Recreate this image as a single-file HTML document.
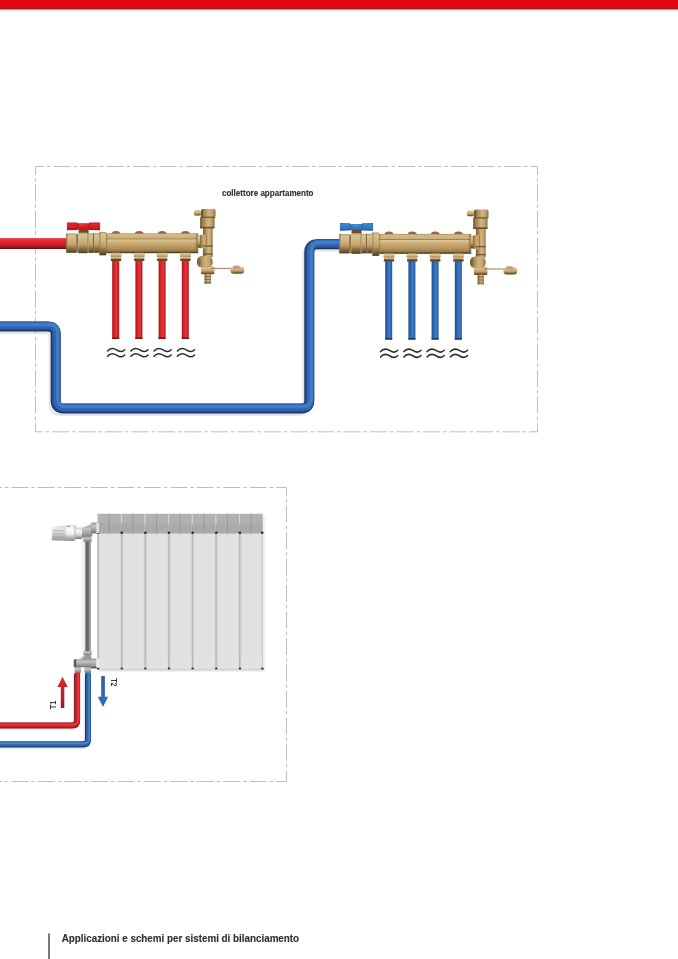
<!DOCTYPE html>
<html>
<head>
<meta charset="utf-8">
<style>
html,body{margin:0;padding:0;background:#fff;}
body{width:678px;height:959px;overflow:hidden;position:relative;font-family:"Liberation Sans",sans-serif;}
svg{position:absolute;left:0;top:0;filter:blur(0.4px);}
</style>
</head>
<body>
<svg width="678" height="959" viewBox="0 0 678 959">
<defs>
  <linearGradient id="topbar" x1="0" y1="0" x2="0" y2="11" gradientUnits="userSpaceOnUse">
    <stop offset="0" stop-color="#E30714" />
    <stop offset="0.66" stop-color="#E10815" />
    <stop offset="0.75" stop-color="#A8141E" />
    <stop offset="0.86" stop-color="#E9A2A6" />
    <stop offset="1" stop-color="#FFFFFF" />
  </linearGradient>

  <linearGradient id="redH" x1="0" y1="0" x2="0" y2="1">
    <stop offset="0" stop-color="#E0525A" />
    <stop offset="0.18" stop-color="#EA2A30" />
    <stop offset="0.5" stop-color="#DC2129" />
    <stop offset="0.78" stop-color="#A91B22" />
    <stop offset="1" stop-color="#5A1216" />
  </linearGradient>
  <linearGradient id="brassH" x1="0" y1="0" x2="0" y2="1">
    <stop offset="0" stop-color="#A08658" />
    <stop offset="0.06" stop-color="#D2BC8A" />
    <stop offset="0.24" stop-color="#CBB07C" />
    <stop offset="0.28" stop-color="#9F8250" />
    <stop offset="0.33" stop-color="#DAC392" />
    <stop offset="0.5" stop-color="#C9AB72" />
    <stop offset="0.75" stop-color="#B3935D" />
    <stop offset="0.9" stop-color="#977846" />
    <stop offset="0.95" stop-color="#5E4826" />
    <stop offset="1" stop-color="#3A2C18" />
  </linearGradient>
  <linearGradient id="brassN" x1="0" y1="0" x2="0" y2="1">
    <stop offset="0" stop-color="#B09668" />
    <stop offset="0.1" stop-color="#D8C294" />
    <stop offset="0.45" stop-color="#CCAE76" />
    <stop offset="0.62" stop-color="#B89A64" />
    <stop offset="0.76" stop-color="#8F7246" />
    <stop offset="0.9" stop-color="#6E5430" />
    <stop offset="1" stop-color="#4A381F" />
  </linearGradient>
  <linearGradient id="brassV" x1="0" y1="0" x2="1" y2="0">
    <stop offset="0" stop-color="#74592E" />
    <stop offset="0.2" stop-color="#A1824C" />
    <stop offset="0.55" stop-color="#D0B67E" />
    <stop offset="0.8" stop-color="#C2A26A" />
    <stop offset="1" stop-color="#87693D" />
  </linearGradient>
  <linearGradient id="redHandle" x1="0" y1="0" x2="0" y2="1">
    <stop offset="0" stop-color="#B8161C" />
    <stop offset="0.2" stop-color="#E0242A" />
    <stop offset="0.7" stop-color="#D41E24" />
    <stop offset="1" stop-color="#9A1217" />
  </linearGradient>
  <linearGradient id="blueHandle" x1="0" y1="0" x2="0" y2="1">
    <stop offset="0" stop-color="#1F62A8" />
    <stop offset="0.2" stop-color="#3A86D0" />
    <stop offset="0.7" stop-color="#2F76C2" />
    <stop offset="1" stop-color="#1C5596" />
  </linearGradient>
  <linearGradient id="redV" x1="0" y1="0" x2="1" y2="0">
    <stop offset="0" stop-color="#A3151B" />
    <stop offset="0.3" stop-color="#D8222A" />
    <stop offset="0.6" stop-color="#E8343A" />
    <stop offset="1" stop-color="#B4181F" />
  </linearGradient>
  <linearGradient id="blueV" x1="0" y1="0" x2="1" y2="0">
    <stop offset="0" stop-color="#1B4C8C" />
    <stop offset="0.3" stop-color="#2C66B2" />
    <stop offset="0.65" stop-color="#3D7CC8" />
    <stop offset="1" stop-color="#21548F" />
  </linearGradient>
  <linearGradient id="fitG" x1="0" y1="0" x2="0" y2="1">
    <stop offset="0" stop-color="#B09466" />
    <stop offset="0.3" stop-color="#DCC69C" />
    <stop offset="0.55" stop-color="#C6A874" />
    <stop offset="0.8" stop-color="#8D7046" />
    <stop offset="1" stop-color="#5A4426" />
  </linearGradient>
  <linearGradient id="greyV" x1="0" y1="0" x2="1" y2="0">
    <stop offset="0" stop-color="#8A8A8A" />
    <stop offset="0.25" stop-color="#626262" />
    <stop offset="0.55" stop-color="#707070" />
    <stop offset="0.85" stop-color="#A4A4A4" />
    <stop offset="1" stop-color="#B8B8B8" />
  </linearGradient>
  <linearGradient id="thermo" x1="0" y1="0" x2="0" y2="1">
    <stop offset="0" stop-color="#C8C8C8" />
    <stop offset="0.25" stop-color="#F4F4F4" />
    <stop offset="0.5" stop-color="#E8E8E8" />
    <stop offset="0.8" stop-color="#B4B4B4" />
    <stop offset="1" stop-color="#8A8A8A" />
  </linearGradient>
  <linearGradient id="greyN" x1="0" y1="0" x2="0" y2="1">
    <stop offset="0" stop-color="#9A9A9A" />
    <stop offset="0.3" stop-color="#C4C4C4" />
    <stop offset="0.7" stop-color="#9E9E9E" />
    <stop offset="1" stop-color="#707070" />
  </linearGradient>
  <linearGradient id="secBody" x1="0" y1="0" x2="1" y2="0">
    <stop offset="0" stop-color="#A8A8A8" />
    <stop offset="0.08" stop-color="#D4D4D4" />
    <stop offset="0.14" stop-color="#E2E2E2" />
    <stop offset="0.5" stop-color="#E0E0E0" />
    <stop offset="0.9" stop-color="#E2E2E2" />
    <stop offset="1" stop-color="#DADADA" />
  </linearGradient>
  <linearGradient id="arrR" x1="0" y1="676" x2="0" y2="708" gradientUnits="userSpaceOnUse">
    <stop offset="0" stop-color="#E4282E" />
    <stop offset="0.35" stop-color="#C8222A" />
    <stop offset="1" stop-color="#9A1C22" />
  </linearGradient>
  <linearGradient id="arrB" x1="0" y1="676" x2="0" y2="708" gradientUnits="userSpaceOnUse">
    <stop offset="0" stop-color="#365F98" />
    <stop offset="0.6" stop-color="#2D69B2" />
    <stop offset="1" stop-color="#2C6FC0" />
  </linearGradient>

  <linearGradient id="pshadow" x1="0" y1="0" x2="1" y2="0">
    <stop offset="0" stop-color="#FFFFFF" stop-opacity="0" />
    <stop offset="1" stop-color="#DADADA" stop-opacity="0.8" />
  </linearGradient>
</defs>


<rect x="0" y="0" width="678" height="8" fill="#E30714" />
<rect x="0" y="8" width="678" height="1" fill="#A8131D" />
<rect x="0" y="9" width="678" height="1" fill="#DC8D92" />
<rect x="0" y="10" width="678" height="1" fill="#F8E4E5" />


<g fill="none" stroke="#BEBEBE" stroke-width="1" stroke-dasharray="17 3 3.5 3" stroke-dashoffset="8.5">
  <path d="M35.5 166.5 H537.5" />
  <path d="M35.5 166.5 V432" />
  <path d="M537.5 166.5 V432" />
  <path d="M537.5 431.8 H35.5" />
  <path d="M286.5 487.5 H-10" stroke-dashoffset="6.8" />
  <path d="M286.5 487.5 V781.5" />
  <path d="M286.5 781.5 H-10" stroke-dashoffset="6.8" />
</g>



<g fill="none" stroke-linejoin="round">
  <g transform="translate(-3,3.5)" stroke="#C8C8D0" stroke-opacity="0.45" stroke-width="8"><path d="M-5 326.5 H47.7 Q55.7 326.5 55.7 334.5 V400.5 Q55.7 408.5 63.7 408.5 H301.3 Q309.3 408.5 309.3 400.5 V252.2 Q309.3 244.2 317.3 244.2 H342" fill="none" />

  </g><g stroke="#1B3260" stroke-width="10"><path d="M-5 326.5 H47.7 Q55.7 326.5 55.7 334.5 V400.5 Q55.7 408.5 63.7 408.5 H301.3 Q309.3 408.5 309.3 400.5 V252.2 Q309.3 244.2 317.3 244.2 H342" fill="none" />

  </g><g transform="translate(0.5,-0.5)" stroke="#244F90" stroke-width="8.6"><path d="M-5 326.5 H47.7 Q55.7 326.5 55.7 334.5 V400.5 Q55.7 408.5 63.7 408.5 H301.3 Q309.3 408.5 309.3 400.5 V252.2 Q309.3 244.2 317.3 244.2 H342" fill="none" />

  </g><g transform="translate(1,-1)" stroke="#2E66B2" stroke-width="6.5"><path d="M-5 326.5 H47.7 Q55.7 326.5 55.7 334.5 V400.5 Q55.7 408.5 63.7 408.5 H301.3 Q309.3 408.5 309.3 400.5 V252.2 Q309.3 244.2 317.3 244.2 H342" fill="none" />

  </g><g transform="translate(2,-2)" stroke="#3E7CC6" stroke-width="3.5"><path d="M-5 326.5 H47.7 Q55.7 326.5 55.7 334.5 V400.5 Q55.7 408.5 63.7 408.5 H301.3 Q309.3 408.5 309.3 400.5 V252.2 Q309.3 244.2 317.3 244.2 H342" fill="none" />

  </g></g>

<rect x="-2" y="238" width="70" height="11" fill="url(#redH)" />



<g id="m1">
  <rect x="112.2" y="260" width="7" height="79" fill="url(#redV)" />
  <rect x="135.4" y="260" width="7" height="79" fill="url(#redV)" />
  <rect x="158.6" y="260" width="7" height="79" fill="url(#redV)" />
  <rect x="181.8" y="260" width="7" height="79" fill="url(#redV)" />
  <g fill="#7E1519"><rect x="112.2" y="337.4" width="7" height="1.6" /><rect x="135.4" y="337.4" width="7" height="1.6" /><rect x="158.6" y="337.4" width="7" height="1.6" /><rect x="181.8" y="337.4" width="7" height="1.6" /></g>
  <rect x="78.6" y="229" width="10" height="4.2" fill="#6B4A2E" />
  <g fill="url(#redHandle)"><path d="M66.9 222.4 L76.9 222.6 L77.2 223.3 L89 223.3 L89.3 222.6 L100 222.4 L100 230.2 L89.3 230 L89 229.5 L77.2 229.5 L76.9 230 L66.9 230.2 Z" />

  </g><rect x="76.6" y="223.2" width="0.9" height="6.4" fill="#8A1015" opacity="0.6" />
  <rect x="88.8" y="223.2" width="0.9" height="6.4" fill="#8A1015" opacity="0.6" />
  <rect x="80" y="224" width="5" height="1.6" rx="0.8" fill="#F04A50" opacity="0.55" />
  <g><g>
    
    <g transform="translate(116,0)"><g>
    <path d="M-4.6 234 Q-4.2 231 0 231 Q4.2 231 4.6 234 Z" fill="#9A6544" />
  </g>
  </g><g transform="translate(139.2,0)"><g>
    <path d="M-4.6 234 Q-4.2 231 0 231 Q4.2 231 4.6 234 Z" fill="#9A6544" />
  </g>
  </g><g transform="translate(162.2,0)"><g>
    <path d="M-4.6 234 Q-4.2 231 0 231 Q4.2 231 4.6 234 Z" fill="#9A6544" />
  </g>
  </g><g transform="translate(185.4,0)"><g>
    <path d="M-4.6 234 Q-4.2 231 0 231 Q4.2 231 4.6 234 Z" fill="#9A6544" />
  </g>
  </g><rect x="66.2" y="233.4" width="10.4" height="19.4" fill="url(#brassN)" />
    <rect x="66.2" y="233.4" width="1.2" height="19.4" fill="#8A6E45" opacity="0.8" />
    
    <rect x="76.2" y="234" width="2.2" height="18.4" fill="#8E7148" />
    
    <rect x="78.3" y="232.6" width="9.4" height="20.6" fill="url(#brassN)" />
    <rect x="87.6" y="233.2" width="1" height="19.6" fill="#6E5532" />
    <rect x="88.6" y="233.2" width="4.6" height="19.6" fill="url(#brassN)" />
    <rect x="93.1" y="233.2" width="1" height="19.6" fill="#6E5532" />
    <rect x="94.1" y="233.2" width="5.4" height="19.6" fill="url(#brassN)" />
    
    <rect x="99.4" y="231.9" width="6.8" height="23.4" fill="url(#brassN)" />
    <rect x="99.4" y="231.9" width="0.9" height="23.4" fill="#7D6240" opacity="0.8" />
    
    <rect x="106" y="233.3" width="92.2" height="19.9" fill="url(#brassH)" />
    <rect x="195.8" y="233.5" width="2.4" height="19.5" rx="1" fill="#7D6038" opacity="0.55" />
    <rect x="106" y="233.5" width="1.2" height="19.5" fill="#8A6C40" opacity="0.6" />
    
    <g transform="translate(116,0)"><g>
    <rect x="-5" y="256" width="10" height="4" fill="url(#fitG)" />
    <rect x="-5.6" y="252.8" width="11.2" height="4" rx="1.8" fill="#D4BC8E" />
    <rect x="-5.6" y="255.6" width="11.2" height="1.2" fill="#A88A58" opacity="0.8" />
    <rect x="-5.2" y="259" width="10.4" height="1.9" rx="0.6" fill="#5F4829" />
  </g>
  </g><g transform="translate(139.2,0)"><g>
    <rect x="-5" y="256" width="10" height="4" fill="url(#fitG)" />
    <rect x="-5.6" y="252.8" width="11.2" height="4" rx="1.8" fill="#D4BC8E" />
    <rect x="-5.6" y="255.6" width="11.2" height="1.2" fill="#A88A58" opacity="0.8" />
    <rect x="-5.2" y="259" width="10.4" height="1.9" rx="0.6" fill="#5F4829" />
  </g>
  </g><g transform="translate(162.2,0)"><g>
    <rect x="-5" y="256" width="10" height="4" fill="url(#fitG)" />
    <rect x="-5.6" y="252.8" width="11.2" height="4" rx="1.8" fill="#D4BC8E" />
    <rect x="-5.6" y="255.6" width="11.2" height="1.2" fill="#A88A58" opacity="0.8" />
    <rect x="-5.2" y="259" width="10.4" height="1.9" rx="0.6" fill="#5F4829" />
  </g>
  </g><g transform="translate(185.4,0)"><g>
    <rect x="-5" y="256" width="10" height="4" fill="url(#fitG)" />
    <rect x="-5.6" y="252.8" width="11.2" height="4" rx="1.8" fill="#D4BC8E" />
    <rect x="-5.6" y="255.6" width="11.2" height="1.2" fill="#A88A58" opacity="0.8" />
    <rect x="-5.2" y="259" width="10.4" height="1.9" rx="0.6" fill="#5F4829" />
  </g>
  </g><rect x="197.6" y="235.2" width="8" height="12.6" rx="1" fill="url(#brassN)" />
    <rect x="203" y="227" width="9.6" height="30" fill="url(#brassV)" />
    <rect x="200" y="234.5" width="7" height="14" rx="2" fill="url(#brassV)" opacity="0.9" />
    <rect x="202.6" y="245.5" width="10.4" height="1.2" fill="#6F5634" />
    <rect x="202.6" y="253.5" width="10.4" height="1.2" fill="#6F5634" />
    
    <rect x="200.1" y="217.5" width="14.4" height="10.8" rx="1" fill="url(#brassV)" />
    <rect x="200.1" y="226.8" width="14.4" height="1.6" fill="#6A5030" />
    <rect x="200.9" y="209" width="14.6" height="8.6" rx="2" fill="url(#brassV)" />
    <rect x="200.3" y="216.6" width="15" height="1.4" fill="#7A5E38" />
    <rect x="194" y="210.2" width="7" height="5.4" rx="1.6" fill="url(#brassN)" />
    <rect x="201.6" y="209.5" width="1.4" height="8" fill="#6E5433" />
    
    <rect x="197" y="256" width="15.6" height="11.6" rx="5" fill="url(#brassV)" />
    <rect x="197.5" y="258" width="3" height="7.5" rx="1.5" fill="#7A5E36" opacity="0.5" />
    <rect x="201" y="266.5" width="13.4" height="7.8" rx="1" fill="url(#brassN)" />
    <rect x="204.6" y="274" width="6.2" height="10.1" fill="url(#brassV)" />
    <rect x="204.6" y="276" width="6.2" height="0.8" fill="#7B5F3A" />
    <rect x="204.6" y="279" width="6.2" height="0.8" fill="#7B5F3A" />
    <rect x="204.6" y="282" width="6.2" height="0.8" fill="#7B5F3A" />
    
    <path d="M211 268.4 L232.5 268.4" stroke="#A87560" stroke-width="1" />
    <rect x="230.4" y="266.8" width="13.9" height="7" rx="3.5" fill="url(#brassN)" />
    <rect x="233" y="265.6" width="7" height="3.4" rx="1.7" fill="#BFA278" />
  </g>
  </g><g transform="translate(116,0)"><g fill="none" stroke="#2A2A2A" stroke-width="1.55" stroke-linecap="round">
    <path d="M-8.4 351 C-5.8 347.9 -2.5 347.9 1 350.1 C3.8 351.9 6.5 352.1 8.7 349.7" />
    <path d="M-8.4 356.3 C-5.8 353.2 -2.5 353.2 1 355.4 C3.8 357.2 6.5 357.4 8.7 355" />
  </g>
  </g><g transform="translate(139.3,0)"><g fill="none" stroke="#2A2A2A" stroke-width="1.55" stroke-linecap="round">
    <path d="M-8.4 351 C-5.8 347.9 -2.5 347.9 1 350.1 C3.8 351.9 6.5 352.1 8.7 349.7" />
    <path d="M-8.4 356.3 C-5.8 353.2 -2.5 353.2 1 355.4 C3.8 357.2 6.5 357.4 8.7 355" />
  </g>
  </g><g transform="translate(162.5,0)"><g fill="none" stroke="#2A2A2A" stroke-width="1.55" stroke-linecap="round">
    <path d="M-8.4 351 C-5.8 347.9 -2.5 347.9 1 350.1 C3.8 351.9 6.5 352.1 8.7 349.7" />
    <path d="M-8.4 356.3 C-5.8 353.2 -2.5 353.2 1 355.4 C3.8 357.2 6.5 357.4 8.7 355" />
  </g>
  </g><g transform="translate(185.8,0)"><g fill="none" stroke="#2A2A2A" stroke-width="1.55" stroke-linecap="round">
    <path d="M-8.4 351 C-5.8 347.9 -2.5 347.9 1 350.1 C3.8 351.9 6.5 352.1 8.7 349.7" />
    <path d="M-8.4 356.3 C-5.8 353.2 -2.5 353.2 1 355.4 C3.8 357.2 6.5 357.4 8.7 355" />
  </g>
  </g></g>

<g transform="translate(273,0.6)">
  <rect x="112.2" y="260" width="7" height="79" fill="url(#blueV)" />
  <rect x="135.4" y="260" width="7" height="79" fill="url(#blueV)" />
  <rect x="158.6" y="260" width="7" height="79" fill="url(#blueV)" />
  <rect x="181.8" y="260" width="7" height="79" fill="url(#blueV)" />
  <g fill="#173F73"><rect x="112.2" y="337.4" width="7" height="1.6" /><rect x="135.4" y="337.4" width="7" height="1.6" /><rect x="158.6" y="337.4" width="7" height="1.6" /><rect x="181.8" y="337.4" width="7" height="1.6" /></g>
  <rect x="78.6" y="229" width="10" height="4.2" fill="#6B4A2E" />
  <g fill="url(#blueHandle)"><path d="M66.9 222.4 L76.9 222.6 L77.2 223.3 L89 223.3 L89.3 222.6 L100 222.4 L100 230.2 L89.3 230 L89 229.5 L77.2 229.5 L76.9 230 L66.9 230.2 Z" />

  </g><rect x="76.6" y="223.2" width="0.9" height="6.4" fill="#174A85" opacity="0.6" />
  <rect x="88.8" y="223.2" width="0.9" height="6.4" fill="#174A85" opacity="0.6" />
  <rect x="80" y="224" width="5" height="1.6" rx="0.8" fill="#5A9BE0" opacity="0.55" />
  <g><g>
    
    <g transform="translate(116,0)"><g>
    <path d="M-4.6 234 Q-4.2 231 0 231 Q4.2 231 4.6 234 Z" fill="#9A6544" />
  </g>
  </g><g transform="translate(139.2,0)"><g>
    <path d="M-4.6 234 Q-4.2 231 0 231 Q4.2 231 4.6 234 Z" fill="#9A6544" />
  </g>
  </g><g transform="translate(162.2,0)"><g>
    <path d="M-4.6 234 Q-4.2 231 0 231 Q4.2 231 4.6 234 Z" fill="#9A6544" />
  </g>
  </g><g transform="translate(185.4,0)"><g>
    <path d="M-4.6 234 Q-4.2 231 0 231 Q4.2 231 4.6 234 Z" fill="#9A6544" />
  </g>
  </g><rect x="66.2" y="233.4" width="10.4" height="19.4" fill="url(#brassN)" />
    <rect x="66.2" y="233.4" width="1.2" height="19.4" fill="#8A6E45" opacity="0.8" />
    
    <rect x="76.2" y="234" width="2.2" height="18.4" fill="#8E7148" />
    
    <rect x="78.3" y="232.6" width="9.4" height="20.6" fill="url(#brassN)" />
    <rect x="87.6" y="233.2" width="1" height="19.6" fill="#6E5532" />
    <rect x="88.6" y="233.2" width="4.6" height="19.6" fill="url(#brassN)" />
    <rect x="93.1" y="233.2" width="1" height="19.6" fill="#6E5532" />
    <rect x="94.1" y="233.2" width="5.4" height="19.6" fill="url(#brassN)" />
    
    <rect x="99.4" y="231.9" width="6.8" height="23.4" fill="url(#brassN)" />
    <rect x="99.4" y="231.9" width="0.9" height="23.4" fill="#7D6240" opacity="0.8" />
    
    <rect x="106" y="233.3" width="92.2" height="19.9" fill="url(#brassH)" />
    <rect x="195.8" y="233.5" width="2.4" height="19.5" rx="1" fill="#7D6038" opacity="0.55" />
    <rect x="106" y="233.5" width="1.2" height="19.5" fill="#8A6C40" opacity="0.6" />
    
    <g transform="translate(116,0)"><g>
    <rect x="-5" y="256" width="10" height="4" fill="url(#fitG)" />
    <rect x="-5.6" y="252.8" width="11.2" height="4" rx="1.8" fill="#D4BC8E" />
    <rect x="-5.6" y="255.6" width="11.2" height="1.2" fill="#A88A58" opacity="0.8" />
    <rect x="-5.2" y="259" width="10.4" height="1.9" rx="0.6" fill="#5F4829" />
  </g>
  </g><g transform="translate(139.2,0)"><g>
    <rect x="-5" y="256" width="10" height="4" fill="url(#fitG)" />
    <rect x="-5.6" y="252.8" width="11.2" height="4" rx="1.8" fill="#D4BC8E" />
    <rect x="-5.6" y="255.6" width="11.2" height="1.2" fill="#A88A58" opacity="0.8" />
    <rect x="-5.2" y="259" width="10.4" height="1.9" rx="0.6" fill="#5F4829" />
  </g>
  </g><g transform="translate(162.2,0)"><g>
    <rect x="-5" y="256" width="10" height="4" fill="url(#fitG)" />
    <rect x="-5.6" y="252.8" width="11.2" height="4" rx="1.8" fill="#D4BC8E" />
    <rect x="-5.6" y="255.6" width="11.2" height="1.2" fill="#A88A58" opacity="0.8" />
    <rect x="-5.2" y="259" width="10.4" height="1.9" rx="0.6" fill="#5F4829" />
  </g>
  </g><g transform="translate(185.4,0)"><g>
    <rect x="-5" y="256" width="10" height="4" fill="url(#fitG)" />
    <rect x="-5.6" y="252.8" width="11.2" height="4" rx="1.8" fill="#D4BC8E" />
    <rect x="-5.6" y="255.6" width="11.2" height="1.2" fill="#A88A58" opacity="0.8" />
    <rect x="-5.2" y="259" width="10.4" height="1.9" rx="0.6" fill="#5F4829" />
  </g>
  </g><rect x="197.6" y="235.2" width="8" height="12.6" rx="1" fill="url(#brassN)" />
    <rect x="203" y="227" width="9.6" height="30" fill="url(#brassV)" />
    <rect x="200" y="234.5" width="7" height="14" rx="2" fill="url(#brassV)" opacity="0.9" />
    <rect x="202.6" y="245.5" width="10.4" height="1.2" fill="#6F5634" />
    <rect x="202.6" y="253.5" width="10.4" height="1.2" fill="#6F5634" />
    
    <rect x="200.1" y="217.5" width="14.4" height="10.8" rx="1" fill="url(#brassV)" />
    <rect x="200.1" y="226.8" width="14.4" height="1.6" fill="#6A5030" />
    <rect x="200.9" y="209" width="14.6" height="8.6" rx="2" fill="url(#brassV)" />
    <rect x="200.3" y="216.6" width="15" height="1.4" fill="#7A5E38" />
    <rect x="194" y="210.2" width="7" height="5.4" rx="1.6" fill="url(#brassN)" />
    <rect x="201.6" y="209.5" width="1.4" height="8" fill="#6E5433" />
    
    <rect x="197" y="256" width="15.6" height="11.6" rx="5" fill="url(#brassV)" />
    <rect x="197.5" y="258" width="3" height="7.5" rx="1.5" fill="#7A5E36" opacity="0.5" />
    <rect x="201" y="266.5" width="13.4" height="7.8" rx="1" fill="url(#brassN)" />
    <rect x="204.6" y="274" width="6.2" height="10.1" fill="url(#brassV)" />
    <rect x="204.6" y="276" width="6.2" height="0.8" fill="#7B5F3A" />
    <rect x="204.6" y="279" width="6.2" height="0.8" fill="#7B5F3A" />
    <rect x="204.6" y="282" width="6.2" height="0.8" fill="#7B5F3A" />
    
    <path d="M211 268.4 L232.5 268.4" stroke="#A87560" stroke-width="1" />
    <rect x="230.4" y="266.8" width="13.9" height="7" rx="3.5" fill="url(#brassN)" />
    <rect x="233" y="265.6" width="7" height="3.4" rx="1.7" fill="#BFA278" />
  </g>
  </g><g transform="translate(116,0)"><g fill="none" stroke="#2A2A2A" stroke-width="1.55" stroke-linecap="round">
    <path d="M-8.4 351 C-5.8 347.9 -2.5 347.9 1 350.1 C3.8 351.9 6.5 352.1 8.7 349.7" />
    <path d="M-8.4 356.3 C-5.8 353.2 -2.5 353.2 1 355.4 C3.8 357.2 6.5 357.4 8.7 355" />
  </g>
  </g><g transform="translate(139.3,0)"><g fill="none" stroke="#2A2A2A" stroke-width="1.55" stroke-linecap="round">
    <path d="M-8.4 351 C-5.8 347.9 -2.5 347.9 1 350.1 C3.8 351.9 6.5 352.1 8.7 349.7" />
    <path d="M-8.4 356.3 C-5.8 353.2 -2.5 353.2 1 355.4 C3.8 357.2 6.5 357.4 8.7 355" />
  </g>
  </g><g transform="translate(162.5,0)"><g fill="none" stroke="#2A2A2A" stroke-width="1.55" stroke-linecap="round">
    <path d="M-8.4 351 C-5.8 347.9 -2.5 347.9 1 350.1 C3.8 351.9 6.5 352.1 8.7 349.7" />
    <path d="M-8.4 356.3 C-5.8 353.2 -2.5 353.2 1 355.4 C3.8 357.2 6.5 357.4 8.7 355" />
  </g>
  </g><g transform="translate(185.8,0)"><g fill="none" stroke="#2A2A2A" stroke-width="1.55" stroke-linecap="round">
    <path d="M-8.4 351 C-5.8 347.9 -2.5 347.9 1 350.1 C3.8 351.9 6.5 352.1 8.7 349.7" />
    <path d="M-8.4 356.3 C-5.8 353.2 -2.5 353.2 1 355.4 C3.8 357.2 6.5 357.4 8.7 355" />
  </g>
  </g></g>



<g id="radiator">
  <rect x="99" y="516" width="166" height="156" fill="#000" opacity="0.06" />
  <g transform="translate(97.3,0)"><g>
    <rect x="0" y="533.5" width="23.63" height="136.5" fill="url(#secBody)" />
    <rect x="0" y="513.8" width="23.63" height="9.2" fill="#B1B1B1" />
    <rect x="0" y="523" width="23.63" height="10.6" fill="#AAAAAA" />
    <rect x="0.1" y="514.5" width="0.9" height="9.5" fill="#E6E6E6" opacity="0.75" />
    <rect x="11.5" y="513.8" width="1" height="19.5" fill="#8A8A8A" opacity="0.6" />
    <circle cx="0.8" cy="532.8" r="1.3" fill="#2A2A2A" />
    <circle cx="0.9" cy="668.8" r="1.3" fill="#2E2E2E" />
    <rect x="2" y="658" width="21.6" height="11.5" fill="#E4E4E4" opacity="0.5" />
  </g>

  </g><g transform="translate(120.93,0)"><g>
    <rect x="0" y="533.5" width="23.63" height="136.5" fill="url(#secBody)" />
    <rect x="0" y="513.8" width="23.63" height="9.2" fill="#B1B1B1" />
    <rect x="0" y="523" width="23.63" height="10.6" fill="#AAAAAA" />
    <rect x="0.1" y="514.5" width="0.9" height="9.5" fill="#E6E6E6" opacity="0.75" />
    <rect x="11.5" y="513.8" width="1" height="19.5" fill="#8A8A8A" opacity="0.6" />
    <circle cx="0.8" cy="532.8" r="1.3" fill="#2A2A2A" />
    <circle cx="0.9" cy="668.8" r="1.3" fill="#2E2E2E" />
    <rect x="2" y="658" width="21.6" height="11.5" fill="#E4E4E4" opacity="0.5" />
  </g>

  </g><g transform="translate(144.56,0)"><g>
    <rect x="0" y="533.5" width="23.63" height="136.5" fill="url(#secBody)" />
    <rect x="0" y="513.8" width="23.63" height="9.2" fill="#B1B1B1" />
    <rect x="0" y="523" width="23.63" height="10.6" fill="#AAAAAA" />
    <rect x="0.1" y="514.5" width="0.9" height="9.5" fill="#E6E6E6" opacity="0.75" />
    <rect x="11.5" y="513.8" width="1" height="19.5" fill="#8A8A8A" opacity="0.6" />
    <circle cx="0.8" cy="532.8" r="1.3" fill="#2A2A2A" />
    <circle cx="0.9" cy="668.8" r="1.3" fill="#2E2E2E" />
    <rect x="2" y="658" width="21.6" height="11.5" fill="#E4E4E4" opacity="0.5" />
  </g>

  </g><g transform="translate(168.19,0)"><g>
    <rect x="0" y="533.5" width="23.63" height="136.5" fill="url(#secBody)" />
    <rect x="0" y="513.8" width="23.63" height="9.2" fill="#B1B1B1" />
    <rect x="0" y="523" width="23.63" height="10.6" fill="#AAAAAA" />
    <rect x="0.1" y="514.5" width="0.9" height="9.5" fill="#E6E6E6" opacity="0.75" />
    <rect x="11.5" y="513.8" width="1" height="19.5" fill="#8A8A8A" opacity="0.6" />
    <circle cx="0.8" cy="532.8" r="1.3" fill="#2A2A2A" />
    <circle cx="0.9" cy="668.8" r="1.3" fill="#2E2E2E" />
    <rect x="2" y="658" width="21.6" height="11.5" fill="#E4E4E4" opacity="0.5" />
  </g>

  </g><g transform="translate(191.82,0)"><g>
    <rect x="0" y="533.5" width="23.63" height="136.5" fill="url(#secBody)" />
    <rect x="0" y="513.8" width="23.63" height="9.2" fill="#B1B1B1" />
    <rect x="0" y="523" width="23.63" height="10.6" fill="#AAAAAA" />
    <rect x="0.1" y="514.5" width="0.9" height="9.5" fill="#E6E6E6" opacity="0.75" />
    <rect x="11.5" y="513.8" width="1" height="19.5" fill="#8A8A8A" opacity="0.6" />
    <circle cx="0.8" cy="532.8" r="1.3" fill="#2A2A2A" />
    <circle cx="0.9" cy="668.8" r="1.3" fill="#2E2E2E" />
    <rect x="2" y="658" width="21.6" height="11.5" fill="#E4E4E4" opacity="0.5" />
  </g>

  </g><g transform="translate(215.45,0)"><g>
    <rect x="0" y="533.5" width="23.63" height="136.5" fill="url(#secBody)" />
    <rect x="0" y="513.8" width="23.63" height="9.2" fill="#B1B1B1" />
    <rect x="0" y="523" width="23.63" height="10.6" fill="#AAAAAA" />
    <rect x="0.1" y="514.5" width="0.9" height="9.5" fill="#E6E6E6" opacity="0.75" />
    <rect x="11.5" y="513.8" width="1" height="19.5" fill="#8A8A8A" opacity="0.6" />
    <circle cx="0.8" cy="532.8" r="1.3" fill="#2A2A2A" />
    <circle cx="0.9" cy="668.8" r="1.3" fill="#2E2E2E" />
    <rect x="2" y="658" width="21.6" height="11.5" fill="#E4E4E4" opacity="0.5" />
  </g>

  </g><g transform="translate(239.08,0)"><g>
    <rect x="0" y="533.5" width="23.63" height="136.5" fill="url(#secBody)" />
    <rect x="0" y="513.8" width="23.63" height="9.2" fill="#B1B1B1" />
    <rect x="0" y="523" width="23.63" height="10.6" fill="#AAAAAA" />
    <rect x="0.1" y="514.5" width="0.9" height="9.5" fill="#E6E6E6" opacity="0.75" />
    <rect x="11.5" y="513.8" width="1" height="19.5" fill="#8A8A8A" opacity="0.6" />
    <circle cx="0.8" cy="532.8" r="1.3" fill="#2A2A2A" />
    <circle cx="0.9" cy="668.8" r="1.3" fill="#2E2E2E" />
    <rect x="2" y="658" width="21.6" height="11.5" fill="#E4E4E4" opacity="0.5" />
  </g>

  </g><rect x="262" y="533.5" width="0.8" height="136.5" fill="#C4C4C4" />
  <circle cx="262.2" cy="532.8" r="1.3" fill="#2A2A2A" />
  <circle cx="262.4" cy="668.8" r="1.3" fill="#2E2E2E" />
  <rect x="97.3" y="669.3" width="165.4" height="1" fill="#C8C8C8" />
  
  <rect x="79" y="542" width="6.2" height="110" fill="url(#pshadow)" />
  <rect x="85.2" y="538" width="5.8" height="115" fill="url(#greyV)" />
  
  <path d="M81.5 528 L91 524.5 L92.5 536 L88 538 L82 537.5 Z" fill="url(#greyN)" />
  <rect x="90.8" y="522.4" width="8.2" height="11.2" rx="1" fill="url(#greyN)" />
  <rect x="96.5" y="523" width="2.4" height="10" fill="#E6E6E6" />
  <rect x="83" y="536.5" width="8.9" height="5.4" rx="2" fill="url(#greyN)" />
  <path d="M51.7 528 Q56 526.6 66 525.6 L74.5 524.9 Q75.6 533 74.5 541.1 L66 540.8 Q56 540.4 51.7 540.3 Z" fill="url(#thermo)" />
  <path d="M52.5 529 L66 527.5 L66 539.6 L52.5 539.4 Z" fill="#9C9C9C" opacity="0.2" />
  <rect x="53.5" y="530.5" width="11" height="0.9" fill="#8A8A8A" opacity="0.5" />
  <rect x="53.5" y="533.5" width="11" height="0.9" fill="#8A8A8A" opacity="0.5" />
  <rect x="53.5" y="536.5" width="11" height="0.9" fill="#8A8A8A" opacity="0.5" />
  <path d="M66.5 526 L74 525.3 Q75 530 74.6 535 L66.8 535.5 Q67.3 530 66.5 526 Z" fill="#FAFAFA" opacity="0.6" />
  <path d="M66 526.4 L70 525.8 L69.5 527.2 Z" fill="#8A8A8A" />
  <rect x="74.6" y="525.5" width="1" height="15" fill="#7A7A7A" opacity="0.7" />
  <rect x="75.5" y="527.5" width="6.5" height="11.5" rx="1" fill="url(#thermo)" />
  <rect x="75.5" y="537.6" width="6.5" height="1.4" fill="#6A6A6A" opacity="0.6" />
  
  <rect x="83" y="650.9" width="9.2" height="4.4" rx="2.2" fill="url(#greyN)" />
  <path d="M84.5 655 L90.8 655 L92 659.5 L77 664 L80 659.5 Z" fill="#9A9A9A" />
  <rect x="73.8" y="659.2" width="22.6" height="8" rx="1" fill="url(#greyN)" />
  <rect x="73.8" y="659.5" width="2.4" height="7.6" fill="#5A5A5A" />
  <rect x="90.5" y="658.6" width="6" height="9.4" rx="1" fill="url(#greyN)" />
  <rect x="90.5" y="667.2" width="7" height="1.2" fill="#4A4A4A" />
  <rect x="96.4" y="659" width="3" height="8.6" fill="#EDEDED" />
  <path d="M78 659.5 L84 655.5 L86 656 L80 661 Z" fill="#C4C4C4" opacity="0.6" />
  <rect x="74.6" y="667" width="6.4" height="6" rx="1.2" fill="url(#greyN)" />
  <rect x="84.4" y="667" width="6.6" height="6" rx="1.2" fill="url(#greyN)" />
</g>

<g fill="none" stroke-linejoin="round">
  <path d="M88 673.5 V739.4 Q88 744.4 83 744.4 H-5" stroke="#C8C8D0" stroke-opacity="0.4" stroke-width="5" transform="translate(-2,2.5)" />
  <path d="M77.1 673.5 V720.6 Q77.1 725.6 72.1 725.6 H-5" stroke="#C8C8D0" stroke-opacity="0.4" stroke-width="5" transform="translate(-2,2.5)" />
  <path d="M77.1 673.5 V720.6 Q77.1 725.6 72.1 725.6 H-5" stroke="#6E1216" stroke-width="6" />
  <path d="M77.1 673.5 V720.6 Q77.1 725.6 72.1 725.6 H-5" stroke="#A8181E" stroke-width="5.2" transform="translate(0.3,-0.3)" />
  <path d="M77.1 673.5 V720.6 Q77.1 725.6 72.1 725.6 H-5" stroke="#D22128" stroke-width="4" transform="translate(0.6,-0.6)" />
  <path d="M77.1 673.5 V720.6 Q77.1 725.6 72.1 725.6 H-5" stroke="#E8343A" stroke-width="2" transform="translate(1.2,-1.2)" />
  <path d="M88 673.5 V739.4 Q88 744.4 83 744.4 H-5" stroke="#1B3260" stroke-width="6" />
  <path d="M88 673.5 V739.4 Q88 744.4 83 744.4 H-5" stroke="#244F90" stroke-width="5.2" transform="translate(0.3,-0.3)" />
  <path d="M88 673.5 V739.4 Q88 744.4 83 744.4 H-5" stroke="#2E66B2" stroke-width="4" transform="translate(0.6,-0.6)" />
  <path d="M88 673.5 V739.4 Q88 744.4 83 744.4 H-5" stroke="#4080C8" stroke-width="2" transform="translate(1.2,-1.2)" />
</g>

<path d="M60.8 708 V687 H57.4 L62.5 676.8 L67.7 687 H64.3 V708 Z" fill="url(#arrR)" />
<path d="M101.2 676 V696.7 H97.8 L103 707 L108.1 696.7 H104.9 V676 Z" fill="url(#arrB)" />
<text transform="translate(56,709.3) rotate(-90)" font-family="Liberation Sans" font-weight="bold" font-size="9" textLength="8.8" lengthAdjust="spacingAndGlyphs" fill="#3A3A3A">T1</text>
<text transform="translate(110.6,678.2) rotate(90)" font-family="Liberation Sans" font-weight="bold" font-size="9" textLength="8.2" lengthAdjust="spacingAndGlyphs" fill="#3A3A3A">T2</text>


<text x="222" y="196" font-family="Liberation Sans" font-weight="bold" font-size="8.4" textLength="91.5" lengthAdjust="spacingAndGlyphs" fill="#333" stroke="#333" stroke-width="0.15">collettore appartamento</text>
<rect x="48" y="933.4" width="2" height="26" fill="#7A7A7A" />
<text transform="translate(61.7,942.3) scale(1,1.06)" x="0" y="0" font-family="Liberation Sans" font-weight="bold" font-size="9.85" textLength="237.4" lengthAdjust="spacingAndGlyphs" fill="#2E2E2E" stroke="#2E2E2E" stroke-width="0.12">Applicazioni e schemi per sistemi di bilanciamento</text>

</svg>
</body>
</html>
